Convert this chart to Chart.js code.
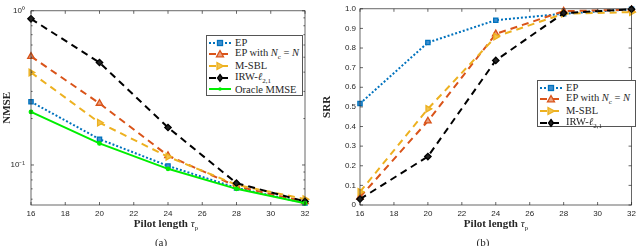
<!DOCTYPE html>
<html>
<head>
<meta charset="utf-8">
<script src="https://cdn.jsdelivr.net/npm/chart.js@4.4.1/dist/chart.umd.min.js"></script>
<style>
    body { margin: 0; width: 640px; height: 246px; background: #fff; position: relative; overflow: hidden; font-family: "Liberation Serif", "DejaVu Serif", serif; color: #262626; }
    .panel { position: absolute; top: 0; width: 320px; height: 246px; }
    .xlabel { position: absolute; top: 217px; font-weight: bold; font-size: 11px; white-space: nowrap; transform: translateX(-50%); }
    .xlabel sub { font-size: 7px; font-weight: normal; }
    .caption { position: absolute; top: 236px; font-size: 11px; transform: translateX(-50%); }
    .legend { position: absolute; border: 1px solid #555; background: #fff; font-size: 10.5px; padding: 1px 2px 1px 1px; box-sizing: border-box; }
    .legend .row { display: flex; align-items: center; height: 11.6px; white-space: nowrap; }
    .legend svg { margin-right: 3px; flex: none; }
    .legend sub { font-size: 7px; }
</style>
</head>
<body>
<div class="panel" style="left:0"><canvas id="nmseChart" width="320" height="246"></canvas></div>
<div class="panel" style="left:320px"><canvas id="srrChart" width="320" height="246"></canvas></div>
<div class="xlabel" style="left:166px">Pilot length <i style="font-weight:normal">τ</i><sub>p</sub></div>
<div class="xlabel" style="left:496px">Pilot length <i style="font-weight:normal">τ</i><sub>p</sub></div>
<div class="caption" style="left:161px">(a)</div>
<div class="caption" style="left:483px">(b)</div>
<div class="legend" id="nmseLegend" style="left:206px;top:35px;width:97px;height:61px"></div>
<div class="legend" id="srrLegend" style="left:537px;top:80px;width:99px;height:47px"></div>

<script>
// Data
const pilotLengths = [16, 20, 24, 28, 32];

const nmseEP = [0.257, 0.147, 0.0986, 0.071, 0.0567];
const nmseEPNc = [0.506, 0.251, 0.115, 0.0727, 0.0578];
const nmseMSBL = [0.398, 0.188, 0.113, 0.0744, 0.060];
const nmseIRW = [0.887, 0.462, 0.175, 0.0762, 0.058];
const nmseOracle = [0.221, 0.138, 0.0944, 0.070, 0.0565];

const srrEP = [0.517, 0.828, 0.942, 0.975, 0.997];
const srrEPNc = [0.04, 0.428, 0.872, 0.988, 0.995];
const srrMSBL = [0.067, 0.49, 0.858, 0.975, 0.983];
const srrIRW = [0.03, 0.247, 0.737, 0.978, 0.998];

const nmseTicks = [0.1, 1];
const nmseTickLabels = ['10⁻¹', '10⁰'];
const nmseMinorTicks = [0.06, 0.07, 0.08, 0.09, 0.2, 0.3, 0.4, 0.5, 0.6, 0.7, 0.8, 0.9];

const tickFont = { family: '"Liberation Sans", Arial, sans-serif', size: 8 };
const axisColor = '#262626';

// series look (MATLAB default colours)
const styles = {
    ep:     { label: 'EP', color: '#0072BD', dash: [2, 2], marker: 'rect', radius: 3, rot: 0, fill: '#3f8fd0' },
    epnc:   { label: 'EP with <i>N</i><sub>c</sub> = <i>N</i>', color: '#D95319', dash: [7, 5], marker: 'triangle', radius: 3.8, rot: 0, fill: '#eaa080' },
    msbl:   { label: 'M-SBL', color: '#EDB120', dash: [7, 5], marker: 'triangle', radius: 3.8, rot: 90, fill: '#f2c450' },
    irw:    { label: 'IRW-<i>ℓ</i><sub>2,1</sub>', color: '#000000', dash: [7, 5], marker: 'rectRot', radius: 3.2, rot: 0, fill: '#222222' },
    oracle: { label: 'Oracle MMSE', color: '#00EE00', dash: [], marker: 'circle', radius: 1.8, rot: 0, fill: '#00EE00' }
};

const makeDataset = (key, values, idx) => {
    const s = styles[key];
    return {
        label: key,
        data: pilotLengths.map((p, i) => ({ x: p, y: values[i] })),
        borderColor: s.color,
        backgroundColor: s.fill,
        borderWidth: 2,
        borderDash: s.dash,
        pointStyle: s.marker,
        pointRadius: s.radius,
        pointRotation: s.rot,
        pointBorderColor: s.color,
        pointBackgroundColor: s.fill,
        pointBorderWidth: 1.3,
        tension: 0,
        clip: false,
        order: 10 - idx
    };
};

// box + inward tick marks like MATLAB
const frameTicks = {
    id: 'frameTicks',
    afterDraw(chart, args, opts) {
        const { ctx, chartArea: a, scales: { x, y } } = chart;
        const line = (x1, y1, x2, y2) => { ctx.beginPath(); ctx.moveTo(x1, y1); ctx.lineTo(x2, y2); ctx.stroke(); };
        ctx.save();
        ctx.strokeStyle = axisColor;
        ctx.lineWidth = 0.7;
        ctx.strokeRect(a.left, a.top, a.right - a.left, a.bottom - a.top);
        x.ticks.forEach(t => {
            const px = x.getPixelForValue(t.value);
            line(px, a.bottom, px, a.bottom - 3);
            line(px, a.top, px, a.top + 3);
        });
        y.ticks.forEach(t => {
            const py = y.getPixelForValue(t.value);
            line(a.left, py, a.left + 3, py);
            line(a.right, py, a.right - 3, py);
        });
        (opts.minor || []).forEach(v => {
            const py = y.getPixelForValue(v);
            line(a.left, py, a.left + 1.6, py);
            line(a.right, py, a.right - 1.6, py);
        });
        ctx.restore();
    }
};

const xScale = () => ({
    type: 'linear',
    min: 16,
    max: 32,
    grid: { display: false, drawTicks: false },
    border: { display: false },
    ticks: { stepSize: 2, font: tickFont, color: axisColor, padding: 4, maxRotation: 0 },
    afterFit: (s) => { s.height = 41; }
});

const yTitle = (text) => ({
    display: true,
    text: text,
    color: axisColor,
    font: { family: '"Liberation Serif", serif', size: 11, weight: 'bold' },
    padding: { top: 1, bottom: 0 }
});

const renderLegend = (el, keys) => {
    el.innerHTML = keys.map(k => {
        const s = styles[k];
        const c = s.color;
        const f = s.fill;
        let m = '';
        if (s.marker === 'rect') m = `<rect x="9.5" y="2.5" width="5" height="5" fill="${f}" stroke="${c}" stroke-width="1.3"/>`;
        if (s.marker === 'triangle' && s.rot === 0) m = `<polygon points="12,1.5 15.5,7.8 8.5,7.8" fill="${f}" stroke="${c}" stroke-width="1.3"/>`;
        if (s.marker === 'triangle' && s.rot === 90) m = `<polygon points="15.5,5 9,1.5 9,8.5" fill="${f}" stroke="${c}" stroke-width="1.3"/>`;
        if (s.marker === 'rectRot') m = `<polygon points="12,1.5 14.5,5 12,8.5 9.5,5" fill="${f}" stroke="${c}" stroke-width="1.3"/>`;
        if (s.marker === 'circle') m = `<circle cx="12" cy="5" r="1.8" fill="${c}"/>`;
        const dash = s.dash.length ? `stroke-dasharray="${s.dash.join(',')}"` : '';
        return `<div class="row"><svg width="24" height="10"><line x1="1" y1="5" x2="23" y2="5" stroke="${c}" stroke-width="2" ${dash}/>${m}</svg><span>${s.label}</span></div>`;
    }).join('');
};

document.addEventListener('DOMContentLoaded', () => {
    Chart.defaults.animation = false;
    Chart.defaults.responsive = false;

    new Chart(document.getElementById('nmseChart'), {
        type: 'line',
        data: {
            datasets: [
                makeDataset('ep', nmseEP, 0),
                makeDataset('epnc', nmseEPNc, 1),
                makeDataset('msbl', nmseMSBL, 2),
                makeDataset('irw', nmseIRW, 3),
                makeDataset('oracle', nmseOracle, 4)
            ]
        },
        options: {
            layout: { padding: { top: 3, right: 15, left: 0, bottom: 0 } },
            plugins: { legend: { display: false }, tooltip: { enabled: false }, frameTicks: { minor: nmseMinorTicks } },
            scales: {
                x: xScale(),
                y: {
                    type: 'logarithmic',
                    min: 0.055,
                    max: 1,
                    grid: { display: false, drawTicks: false },
                    border: { display: false },
                    title: yTitle('NMSE'),
                    ticks: {
                        font: tickFont,
                        color: axisColor,
                        padding: 6,
                        callback: (v) => nmseTickLabels[nmseTicks.indexOf(v)] ?? ''
                    },
                    afterBuildTicks: (s) => { s.ticks = nmseTicks.map(v => ({ value: v })); },
                    afterFit: (s) => { s.width = 31; }
                }
            }
        },
        plugins: [frameTicks]
    });

    new Chart(document.getElementById('srrChart'), {
        type: 'line',
        data: {
            datasets: [
                makeDataset('ep', srrEP, 0),
                makeDataset('epnc', srrEPNc, 1),
                makeDataset('msbl', srrMSBL, 2),
                makeDataset('irw', srrIRW, 3)
            ]
        },
        options: {
            layout: { padding: { top: 5, right: 5, left: 0, bottom: 0 } },
            plugins: { legend: { display: false }, tooltip: { enabled: false }, frameTicks: {} },
            scales: {
                x: xScale(),
                y: {
                    type: 'linear',
                    min: 0,
                    max: 1,
                    grid: { display: false, drawTicks: false },
                    border: { display: false },
                    title: yTitle('SRR'),
                    ticks: { stepSize: 0.1, font: tickFont, color: axisColor, padding: 4 },
                    afterFit: (s) => { s.width = 40; }
                }
            }
        },
        plugins: [frameTicks]
    });

    renderLegend(document.getElementById('nmseLegend'), ['ep', 'epnc', 'msbl', 'irw', 'oracle']);
    renderLegend(document.getElementById('srrLegend'), ['ep', 'epnc', 'msbl', 'irw']);
});
</script>
</body>
</html>
